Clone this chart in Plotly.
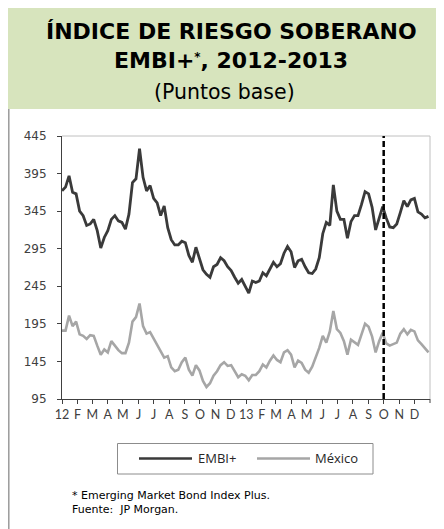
import pandas as pd
import plotly.graph_objects as go

# Weekly observations, 2012-01-01 .. 2013-12-29 (basis points)
start_date = "2012-01-01"
n_weeks = 105

embi = [372, 377, 392, 370, 368, 345, 339, 326, 328, 334, 319, 296, 310, 319, 334, 339, 332, 330, 321, 341,
        383, 388, 428, 390, 372, 379, 362,
        356, 339, 352, 323, 307, 300, 300, 305, 303, 286, 277, 297, 283, 267, 261, 257, 271, 274, 283, 279,
        271, 266, 257, 249, 254, 245,
        236, 252, 250, 252, 263, 259, 268, 277, 271, 275, 289, 298, 291, 270, 279, 281, 271, 263, 262, 268,
        283, 315, 330, 326, 380, 345,
        334, 334, 309, 331, 339, 339, 354, 371, 368, 350, 320, 334, 351, 336, 324, 323, 328, 343, 359, 351,
        360, 362, 344, 341, 336, 338]

mexico = [186, 186, 206, 192, 198, 181, 179, 175, 180, 179, 166, 154, 161, 157, 172, 166, 160, 156, 156, 170,
          198, 204, 222, 192, 182, 184, 175,
          168, 157, 150, 152, 137, 132, 134, 144, 150, 134, 126, 140, 133, 119, 111, 116, 126, 132, 140, 144,
          139, 140, 132, 124, 128, 126,
          120, 127, 127, 132, 141, 137, 146, 153, 147, 144, 157, 160, 154, 137, 146, 143, 134, 130, 138, 150,
          163, 179, 170, 185, 212, 188,
          183, 172, 154, 174, 170, 167, 181, 195, 191, 178, 157, 172, 183, 169, 166, 168, 170, 182, 188, 181,
          187, 185, 173, 168, 162, 157]

month_ticks = pd.date_range("2012-01-01", "2013-12-01", freq="MS")
month_labels = ["12", "F", "M", "A", "M", "J", "J", "A", "S", "O", "N", "D",
                "13", "F", "M", "A", "M", "J", "J", "A", "S", "O", "N", "D"]
y_ticks = [95, 145, 195, 245, 295, 345, 395, 445]
x_range = ["2012-01-01", "2014-01-01"]
marker_date = "2013-10-01"

series_names = ["EMBI+", "México"]
series_colors = ["#3a3a3a", "#a6a6a6"]

dates = pd.date_range(start_date, periods=n_weeks, freq="7D")

# the page places the figure 8px from the window's top-left corner
OFF = 8
W, H = 444 - OFF, 529 - OFF
PLOT_L, PLOT_R, PLOT_T, PLOT_B = 62, 430, 136, 399   # window pixels
L, R, T, B = PLOT_L - OFF, 444 - PLOT_R, PLOT_T - OFF, 529 - PLOT_B
PW, PH = PLOT_R - PLOT_L, PLOT_B - PLOT_T


def px(x):
    return (x - PLOT_L) / PW


def py(y):
    return (PLOT_B - y) / PH


fig = go.Figure()
for name, vals, col, w in zip(series_names, [embi, mexico], series_colors, [2.8, 2.6]):
    fig.add_trace(go.Scatter(x=dates, y=vals, mode="lines", name=name,
                             line=dict(color=col, width=w), showlegend=False))

shapes = []
# header band
shapes.append(dict(type="rect", xref="paper", yref="paper", x0=px(8), x1=px(446), y0=py(109), y1=py(8),
                   fillcolor="#d7e4bd", line=dict(width=0), layer="below"))
# left border
shapes.append(dict(type="line", xref="paper", yref="paper", x0=px(8.8), x1=px(8.8), y0=py(109), y1=py(532),
                   line=dict(color="#9a9a9a", width=1.5)))
# plot frame top/right
shapes.append(dict(type="line", xref="paper", yref="paper", x0=0, x1=1, y0=1, y1=1,
                   line=dict(color="#c0c0c0", width=1)))
shapes.append(dict(type="line", xref="paper", yref="paper", x0=1, x1=1, y0=0, y1=1,
                   line=dict(color="#c0c0c0", width=1)))
# closing tick at the end of the date axis
shapes.append(dict(type="line", xref="paper", yref="paper", x0=1, x1=1, y0=0, y1=py(403),
                   line=dict(color="#404040", width=1)))
# dashed marker
shapes.append(dict(type="line", xref="x", yref="paper", x0=marker_date, x1=marker_date, y0=0, y1=1,
                   line=dict(color="#000000", width=2.5, dash="6px,3px")))
# legend box
shapes.append(dict(type="rect", xref="paper", yref="paper", x0=px(117.5), x1=px(373), y0=py(474), y1=py(443.5),
                   line=dict(color="#8c8c8c", width=1), fillcolor="rgba(0,0,0,0)"))
leg_items = [(139, 192, 196), (257, 310, 313)]
annotations = []
for (a, b, tx), name, col in zip(leg_items, series_names, series_colors):
    shapes.append(dict(type="line", xref="paper", yref="paper", x0=px(a), x1=px(b), y0=py(458.5), y1=py(458.5),
                       line=dict(color=col, width=2.5)))
    annotations.append(dict(xref="paper", yref="paper", x=px(tx), y=py(458.5), text=name, showarrow=False,
                            xanchor="left", yanchor="middle",
                            font=dict(family="Open Sans", size=13, color="#262626")))

title_font = dict(family="DejaVu Sans", size=22, color="#000000")
annotations += [
    dict(xref="paper", yref="paper", x=px(231), y=py(31), text="<b>ÍNDICE DE RIESGO SOBERANO</b>",
         showarrow=False, xanchor="center", yanchor="middle", font=title_font),
    dict(xref="paper", yref="paper", x=px(231), y=py(61),
         text="<b>EMBI+<span style='font-size:17px'><sup>*</sup></span>, 2012-2013</b>",
         showarrow=False, xanchor="center", yanchor="middle", font=title_font),
    dict(xref="paper", yref="paper", x=px(224), y=py(92), text="(Puntos base)",
         showarrow=False, xanchor="center", yanchor="middle",
         font=dict(family="DejaVu Sans", size=20.5, color="#000000")),
    dict(xref="paper", yref="paper", x=px(70), y=py(486.5), align="left",
         text="* Emerging Market Bond Index Plus.<br>Fuente:  JP Morgan.",
         showarrow=False, xanchor="left", yanchor="top",
         font=dict(family="DejaVu Sans", size=11, color="#000000")),
]

fig.update_layout(
    width=W, height=H,
    margin=dict(l=L, r=R, t=T, b=B, pad=0),
    paper_bgcolor="white", plot_bgcolor="white",
    shapes=shapes, annotations=annotations,
    showlegend=False,
    xaxis=dict(type="date", range=x_range, tickmode="array",
               tickvals=list(month_ticks), ticktext=month_labels,
               showgrid=False, zeroline=False, showline=True, linecolor="#404040", linewidth=1,
               ticks="outside", ticklen=4, tickcolor="#404040", tickwidth=1,
               tickfont=dict(family="Lato", size=12.5, color="#404040")),
    yaxis=dict(range=[95, 445], tickmode="array", tickvals=y_ticks,
               showgrid=False, zeroline=False, showline=True, linecolor="#404040", linewidth=1,
               ticks="outside", ticklen=4, tickcolor="#404040", tickwidth=1, ticklabelstandoff=8,
               tickfont=dict(family="DejaVu Sans", size=12, color="#404040")),
)

fig.write_html("out.html")
